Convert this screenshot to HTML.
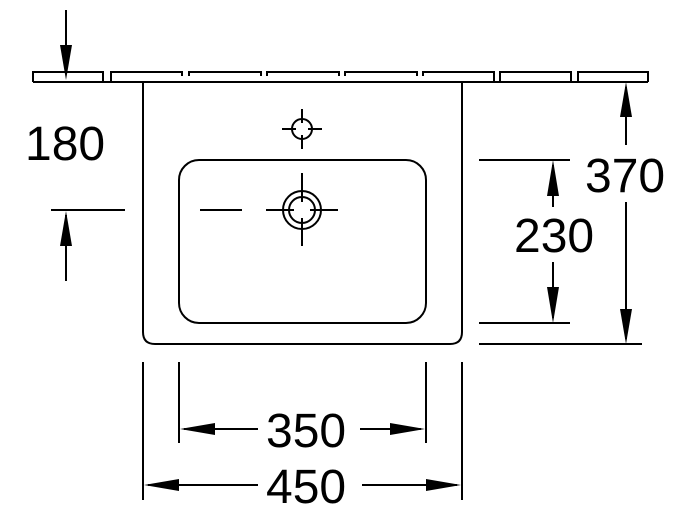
<!DOCTYPE html>
<html><head><style>body{margin:0;background:#fff}svg{display:block}</style></head><body>
<svg width="700" height="526" viewBox="0 0 700 526" xmlns="http://www.w3.org/2000/svg">
<g fill="none" stroke="#000" stroke-width="2">
<!-- tiles -->
<path d="M33,82 L648,82"/>
<path d="M33,82 V72 H103 V82"/>
<path d="M111,82 V72 H182 V76 M189,76 V72 H261 V76 M267,76 V72 H339 V76 M345,76 V72 H417 V76 M423,76 V72 H494 V82 M500,82 V72 H571 V82 M578,82 V72 H648 V82"/>
<!-- basin -->
<path d="M143,82 V332 Q143,344 155,344 H450 Q462,344 462,332 V82"/>
<rect x="179" y="160" width="247" height="163" rx="20"/>
<!-- tap hole -->
<circle cx="302" cy="129" r="10"/>
<path d="M282,129 H296 M308,129 H322 M302,109 V123 M302,135 V149"/>
<!-- drain -->
<circle cx="302" cy="210" r="19"/>
<circle cx="302" cy="210" r="13"/>
<path d="M266,210 H294 M310,210 H338 M302,173 V202 M302,218 V246"/>
<path d="M200,210 H242"/>
<!-- left dims -->
<path d="M51,210 H125"/>
<path d="M66,10 V72"/>
<path d="M66,281 V215"/>
<!-- right dims -->
<path d="M479,160 H570 M479,323 H570 M479,344 H642"/>
<path d="M553,165 V207 M553,262 V318"/>
<path d="M626,87 V145 M626,202 V339"/>
<!-- bottom dims -->
<path d="M143,362 V500 M462,362 V500 M179,362 V443 M426,362 V443"/>
<path d="M184,429 H258 M360,429 H421"/>
<path d="M148,485 H258 M362,485 H457"/>
</g>
<g fill="#000">
<polygon points="66,80 60,45 72,45"/>
<polygon points="66,211 60,246 72,246"/>
<polygon points="553,160 547,196 559,196"/>
<polygon points="553,323 547,287 559,287"/>
<polygon points="626,82 620,117 632,117"/>
<polygon points="626,344 620,309 632,309"/>
<polygon points="180,429 215,423 215,435"/>
<polygon points="425,429 390,423 390,435"/>
<polygon points="144,485 179,479 179,491"/>
<polygon points="461,485 426,479 426,491"/>
</g>
<g font-family="Liberation Sans, sans-serif" font-size="48" fill="#000">
<text x="25" y="160">180</text>
<text x="585" y="192">370</text>
<text x="514" y="252">230</text>
<text x="266" y="447">350</text>
<text x="266" y="503">450</text>
</g>
</svg>
</body></html>
